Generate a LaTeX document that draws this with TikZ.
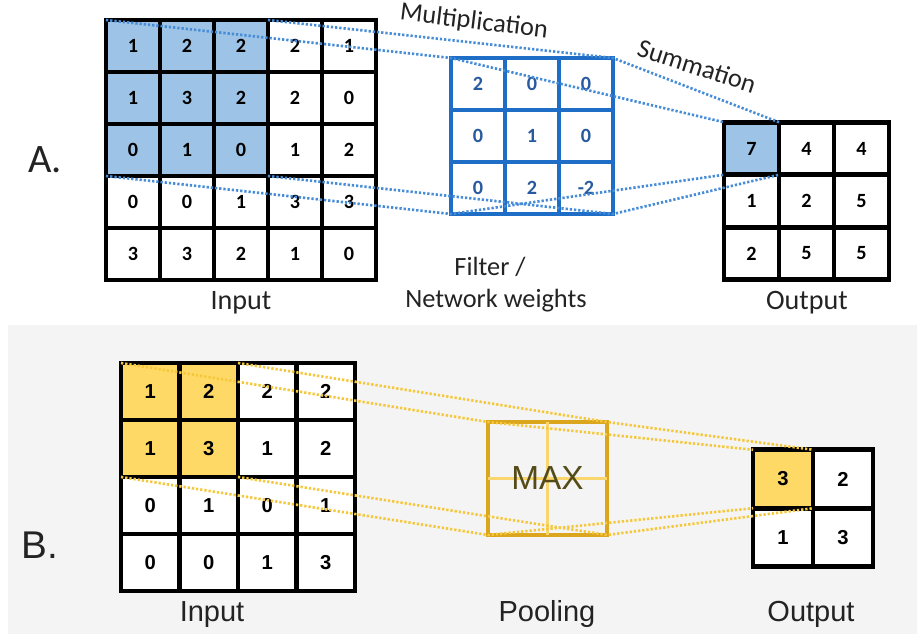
\documentclass[tikz,border=0pt]{standalone}
\usepackage{fontspec}
\setmainfont{Carlito}
\newfontfamily\arialfont{Liberation Sans}
\usetikzlibrary{positioning}
\definecolor{cellblue}{RGB}{157,195,230}
\definecolor{filterblue}{RGB}{30,110,200}
\definecolor{digitblue}{RGB}{40,90,160}
\definecolor{dotblue}{RGB}{70,140,215}
\definecolor{cellgold}{RGB}{255,217,102}
\definecolor{poolgold}{RGB}{220,165,30}
\definecolor{crossgold}{RGB}{250,215,110}
\definecolor{dotgold}{RGB}{245,200,60}
\definecolor{maxolive}{RGB}{85,75,25}
\definecolor{panelgray}{RGB}{244,244,244}
\definecolor{labelgray}{RGB}{35,35,35}

\tikzset{
  gridcell/.style={draw=black, line width=2.7pt, outer sep=0pt, inner sep=0pt},
  cellA/.style={gridcell, minimum width=1.08cm, minimum height=1.04cm, font=\bfseries\fontsize{11.5}{13}\selectfont},
  cellF/.style={cellA, draw=filterblue, text=digitblue},
  cellO/.style={gridcell, minimum width=1.1cm, minimum height=1.05cm, font=\bfseries\fontsize{11.5}{13}\selectfont},
  cellB/.style={gridcell, minimum width=1.17cm, minimum height=1.14cm, font=\arialfont\bfseries\fontsize{11.5}{13}\selectfont},
  cellP/.style={gridcell, minimum width=1.2cm, minimum height=1.17cm, font=\arialfont\bfseries\fontsize{11.5}{13}\selectfont},
  dotA/.style={dotblue, line width=1.5pt, dash pattern=on 1.3pt off 1.1pt},
  dotB/.style={dotgold, line width=1.5pt, dash pattern=on 1.3pt off 1.1pt},
  caption/.style={text=labelgray, font=\fontsize{16}{19}\selectfont, anchor=base},
  captionB/.style={text=labelgray, font=\arialfont\fontsize{16.5}{19}\selectfont, anchor=base}
}

\begin{document}
\begin{tikzpicture}[x=0.02cm, y=-0.02cm]
    \useasboundingbox (0,0) rectangle (917,634);
    \fill[panelgray] (8,325) rectangle (917,634);

    % A. convolution
    \node[text=labelgray, font=\fontsize{23}{26}\selectfont] (lblA) at (45,160) {A.};

    % input grid
    \foreach \row [count=\r] in {{1,2,2,2,1},{1,3,2,2,0},{0,1,0,1,2},{0,0,1,3,3},{3,3,2,1,0}} {
        \foreach \v [count=\c] in \row {
            \pgfmathtruncatemacro\hl{and(\r<4,\c<4)}
            \def\cellfill{white}\ifnum\hl=1 \def\cellfill{cellblue}\fi
            \node[cellA, fill=\cellfill] (inA-\r-\c) at ({133+54*(\c-1)}, {46+52*(\r-1)}) {\v};
        }
    }
    \node[caption] (capInA) at (241,310) {Input};

    % filter
    \foreach \row [count=\r] in {{2,0,0},{0,1,0},{0,2,-2}} {
        \foreach \v [count=\c] in \row {
            \node[cellF, fill=white] (filt-\r-\c) at ({478+54*(\c-1)}, {84+52*(\r-1)}) {\v};
        }
    }
    \node[caption, font=\fontsize{15}{18}\selectfont] (capFilt) at (490,276) {Filter /};
    \node[caption, font=\fontsize{15}{18}\selectfont] (capNet) at (496,308) {Network weights};

    % output
    \foreach \row [count=\r] in {{7,4,4},{1,2,5},{2,5,5}} {
        \foreach \v [count=\c] in \row {
            \pgfmathtruncatemacro\hl{and(\r<2,\c<2)}
            \def\cellfill{white}\ifnum\hl=1 \def\cellfill{cellblue}\fi
            \node[cellO, fill=\cellfill] (outA-\r-\c) at ({751.5+55*(\c-1)}, {148.5+52.5*(\r-1)}) {\v};
        }
    }
    \node[caption] (capOutA) at (807,310) {Output};

    % projection lines A
    \draw[dotA] (inA-1-1.north west) -- (filt-1-1.north west) -- (outA-1-1.north west);
    \draw[dotA] (inA-1-3.north east) -- (filt-1-3.north east) -- (outA-1-1.north east);
    \draw[dotA] (inA-3-1.south west) -- (filt-3-1.south west) -- (outA-1-1.south west);
    \draw[dotA] (inA-3-3.south east) -- (filt-3-3.south east) -- (outA-1-1.south east);

    \node[text=labelgray, font=\fontsize{15}{18}\selectfont, rotate=-7] (mult) at (474,22) {Multiplication};
    \node[text=labelgray, font=\fontsize{15}{18}\selectfont, rotate=-18] (summ) at (697,66) {Summation};

    % B. pooling
    \node[text=labelgray, font=\arialfont\fontsize{22}{25}\selectfont] (lblB) at (40,545) {B.};

    % input grid
    \foreach \row [count=\r] in {{1,2,2,2},{1,3,1,2},{0,1,0,1},{0,0,1,3}} {
        \foreach \v [count=\c] in \row {
            \pgfmathtruncatemacro\hl{and(\r<3,\c<3)}
            \def\cellfill{white}\ifnum\hl=1 \def\cellfill{cellgold}\fi
            \node[cellB, fill=\cellfill] (inB-\r-\c) at ({150.25+58.5*(\c-1)}, {391.5+57*(\r-1)}) {\v};
        }
    }
    \node[captionB] (capInB) at (212,622) {Input};

    % pooling window
    \node[draw=poolgold, line width=2.7pt, outer sep=0pt, minimum width=2.38cm, minimum height=2.26cm] (pool) at (547.5,478.5) {};
    \draw[crossgold, line width=1.6pt] (pool.north) -- (pool.south) (pool.west) -- (pool.east);
    \node[text=maxolive, font=\arialfont\fontsize{19}{21}\selectfont] (maxtxt) at (pool.center) {MAX};
    \node[captionB] (capPool) at (547,622) {Pooling};

    % output
    \foreach \row [count=\r] in {{3,2},{1,3}} {
        \foreach \v [count=\c] in \row {
            \pgfmathtruncatemacro\hl{and(\r<2,\c<2)}
            \def\cellfill{white}\ifnum\hl=1 \def\cellfill{cellgold}\fi
            \node[cellP, fill=\cellfill] (outB-\r-\c) at ({783+60*(\c-1)}, {479+58.5*(\r-1)}) {\v};
        }
    }
    \node[captionB] (capOutB) at (811,622) {Output};

    % projection lines B
    \draw[dotB] (inB-1-1.north west) -- (pool.north west) -- (outB-1-1.north west);
    \draw[dotB] (inB-1-2.north east) -- (pool.north east) -- (outB-1-1.north east);
    \draw[dotB] (inB-2-1.south west) -- (pool.south west) -- (outB-1-1.south west);
    \draw[dotB] (inB-2-2.south east) -- (pool.south east) -- (outB-1-1.south east);
\end{tikzpicture}
\end{document}
